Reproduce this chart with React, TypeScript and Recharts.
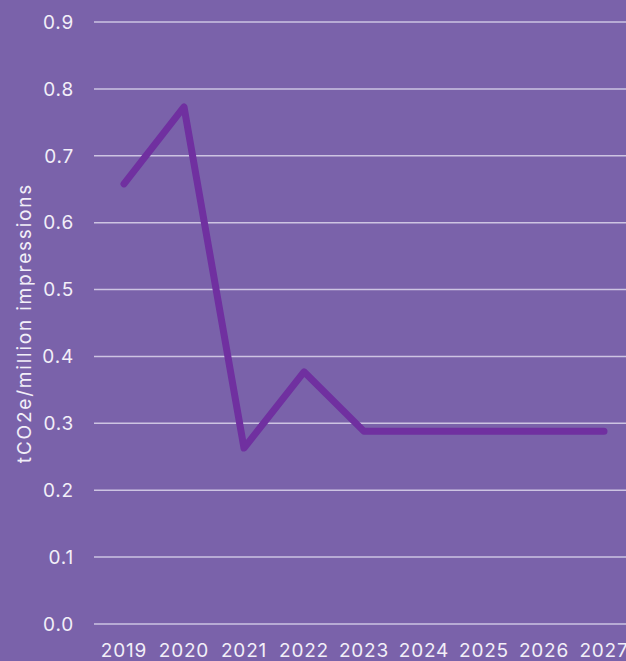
import React from "react";
import { LineChart, Line, XAxis, YAxis, CartesianGrid } from "recharts";

const years = ["2019", "2020", "2021", "2022", "2023", "2024", "2025", "2026", "2027"];
const intensity = [0.658, 0.773, 0.263, 0.377, 0.288, 0.288, 0.288, 0.288, 0.288];
const yTicks = [0, 0.1, 0.2, 0.3, 0.4, 0.5, 0.6, 0.7, 0.8, 0.9];

const data = years.map((year, i) => ({ year, value: intensity[i] }));

const font = "Inter, 'Open Sans', sans-serif";
const textColor = "#F2EFF8";

const App: React.FC = () => {
    return (
        <div
            style={{
                position: "absolute",
                left: 0,
                top: 0,
                width: 626,
                height: 661,
                overflow: "hidden",
                background: "#7A62AA",
                fontFamily: font,
            }}
        >
            <LineChart width={640} height={661} data={data} margin={{ top: 22, right: 6, bottom: 0, left: 0 }}>
                <CartesianGrid vertical={false} stroke="#CDC4E2" strokeWidth={1.5} />
                <XAxis
                    dataKey="year"
                    axisLine={false}
                    tickLine={false}
                    tickSize={0}
                    tickMargin={20}
                    height={37}
                    interval={0}
                    padding={{ left: 30, right: 30 }}
                    tick={{ fill: textColor, fontSize: 19, fontFamily: font, letterSpacing: 0.8 }}
                />
                <YAxis
                    domain={[0, 0.9]}
                    ticks={yTicks}
                    tickFormatter={(v: number) => v.toFixed(1)}
                    axisLine={false}
                    tickLine={false}
                    tickSize={0}
                    tickMargin={20}
                    width={94}
                    tick={{ fill: textColor, fontSize: 19, fontFamily: font, letterSpacing: 0.8 }}
                    label={{
                        value: "tCO2e/million impressions",
                        angle: -90,
                        position: "insideLeft",
                        offset: 24,
                        style: { textAnchor: "middle", fill: textColor, fontSize: 19, fontFamily: font, letterSpacing: 1.8 },
                    }}
                />
                <Line
                    type="linear"
                    dataKey="value"
                    stroke="#7030A0"
                    strokeWidth={7}
                    strokeLinecap="round"
                    strokeLinejoin="round"
                    dot={false}
                    activeDot={false}
                    isAnimationActive={false}
                />
            </LineChart>
        </div>
    );
};

export default App;
